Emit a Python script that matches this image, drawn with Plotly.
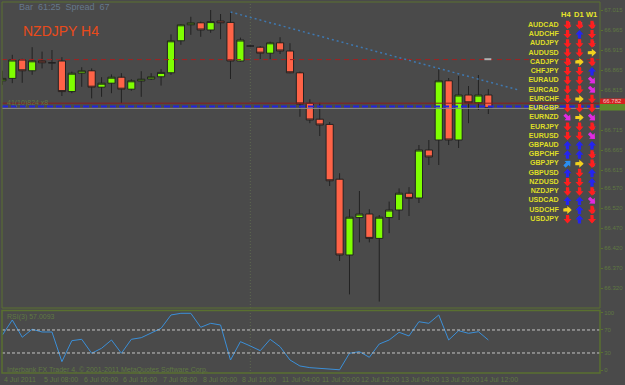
import math
import plotly.graph_objects as go

# ---------------- data (NZDJPY, H4 bars, index 0..49) ----------------
opens  = [66.838, 66.844, 66.890, 66.863, 66.888, 66.883, 66.8875, 66.811, 66.857, 66.863,
          66.822, 66.832, 66.847, 66.817, 66.8375, 66.8425, 66.848, 66.858, 66.938, 66.978,
          66.983, 66.965, 66.9875, 66.984, 66.8875, 66.925, 66.922, 66.907, 66.933, 66.9125,
          66.858, 66.782, 66.742, 66.729, 66.592, 66.4025, 66.496, 66.505, 66.444, 66.496,
          66.515, 66.557, 66.545, 66.665, 66.690, 66.838, 66.690, 66.8025, 66.783, 66.8025]
highs  = [66.863, 66.903, 66.893, 66.922, 66.911, 66.915, 66.897, 66.861, 66.872, 66.869,
          66.847, 66.854, 66.857, 66.842, 66.862, 66.857, 66.867, 66.954, 66.980, 66.998,
          66.986, 67.015, 67.005, 67.011, 66.946, 66.9275, 66.925, 66.936, 66.947, 66.932,
          66.861, 66.792, 66.783, 66.735, 66.607, 66.517, 66.5625, 66.517, 66.5025, 66.536,
          66.569, 66.572, 66.6775, 66.690, 66.870, 66.845, 66.850, 66.825, 66.8525, 66.817]
lows   = [66.828, 66.832, 66.833, 66.853, 66.869, 66.865, 66.800, 66.807, 66.823, 66.794,
          66.798, 66.807, 66.782, 66.813, 66.798, 66.840, 66.826, 66.853, 66.928, 66.953,
          66.948, 66.958, 66.942, 66.8425, 66.886, 66.9225, 66.8925, 66.892, 66.905, 66.857,
          66.748, 66.732, 66.700, 66.575, 66.3875, 66.304, 66.434, 66.434, 66.286, 66.457,
          66.490, 66.500, 66.5325, 66.6275, 66.6275, 66.6775, 66.670, 66.732, 66.765, 66.755]
closes = [66.844, 66.890, 66.863, 66.888, 66.883, 66.883, 66.811, 66.857, 66.863, 66.822,
          66.832, 66.847, 66.817, 66.838, 66.842, 66.848, 66.859, 66.938, 66.978, 66.983,
          66.965, 66.986, 66.983, 66.8875, 66.940, 66.925, 66.907, 66.933, 66.9125, 66.858,
          66.780, 66.740, 66.7275, 66.588, 66.4025, 66.497, 66.505, 66.444, 66.497, 66.515,
          66.557, 66.544, 66.665, 66.6475, 66.838, 66.690, 66.8025, 66.783, 66.8025, 66.769]
rsi = [61.3, 87.4, 57.3, 71.2, 66.5, 66.5, 14.9, 51.4, 53.8, 29.5,
       38.2, 52.6, 29.5, 53.8, 56.6, 64.2, 72.9, 96.1, 99.0, 99.0,
       74.7, 81.6, 78.7, 17.8, 49.7, 42.2, 34.0, 53.8, 41.0, 17.8,
       7.4, 4.5, 3.4, 1.2, 0.8, 29.5, 32.3, 22.5, 45.6, 52.6,
       66.0, 59.6, 84.4, 81.6, 96.1, 52.6, 68.8, 64.2, 67.0, 52.6]
bars = list(range(len(opens)))

time_label_bars = [0, 4, 8, 12, 16, 20, 24, 28, 32, 36, 40, 44, 48]
time_labels = ["4 Jul 2011", "5 Jul 08:00", "6 Jul 00:00", "6 Jul 16:00", "7 Jul 08:00",
               "8 Jul 00:00", "8 Jul 16:00", "11 Jul 04:00", "11 Jul 20:00", "12 Jul 12:00",
               "13 Jul 04:00", "13 Jul 20:00", "14 Jul 12:00"]
price_ticks = [67.015, 66.965, 66.915, 66.865, 66.815, 66.715, 66.665, 66.615,
               66.570, 66.520, 66.470, 66.420, 66.370, 66.320]
rsi_ticks = [100, 70, 30, 0]
rsi_levels = [70, 30]

level_dashed_red = 66.891
level_solid_red = 66.782
level_blue = 66.774
trend_start = (23, 67.010)
trend_end = (52.2, 66.814)
marker_dash = (48.6, 49.3, 66.892)
grid_bar = 25

symbols = ["AUDCAD", "AUDCHF", "AUDJPY", "AUDUSD", "CADJPY", "CHFJPY", "EURAUD", "EURCAD",
           "EURCHF", "EURGBP", "EURNZD", "EURJPY", "EURUSD", "GBPAUD", "GBPCHF", "GBPJPY",
           "GBPUSD", "NZDUSD", "NZDJPY", "USDCAD", "USDCHF", "USDJPY"]
h4 = ["D", "D", "D", "D", "D", "D", "D", "D", "D", "D", "DR", "D", "D", "U", "U", "UR", "U", "D", "D", "U", "R", "D"]
d1 = ["D", "U", "D", "D", "R", "D", "D", "D", "R", "D", "R", "D", "D", "U", "U", "R", "D", "D", "D", "U", "U", "U"]
w1 = ["D", "D", "D", "R", "D", "U", "DR", "DR", "D", "D", "DR", "D", "DR", "U", "D", "D", "U", "U", "D", "DR", "D", "D"]
timeframes = ["H4", "D1", "W1"]

# ---------------- styles ----------------
BG = "#4a4a4a"
OLIVE = "#5a7030"
DIM = "#5f7842"
ARROW_GLYPH = "➡"
arrow_angle = {"D": 90, "U": -90, "R": 0, "DR": 45, "UR": -45}
arrow_color = {"D": "#ff1e1e", "U": "#2424f0", "R": "#f2d21e", "DR": "#e02ae0", "UR": "#2a8ff0"}
# arrow silhouette pointing right (pixel offsets), rotated per direction
ARROW_POLY = [(-4.2, -1.6), (-4.2, 1.6), (-0.2, 1.6), (-0.2, 4.0), (4.2, 0), (-0.2, -4.0), (-0.2, -1.6)]

W, H = 625, 385
ML, MR, MT, MB = 2, 25, 2, 11
PW, PH = W - ML - MR, H - MT - MB


def xp(px):
    return (px - ML) / PW


def yp(py):
    return (H - MB - py) / PH


def arrow_path(cx, cy, code):
    t = math.radians(arrow_angle[code])
    pts = []
    for dx, dy in ARROW_POLY:
        rx = dx * math.cos(t) - dy * math.sin(t)
        ry = dx * math.sin(t) + dy * math.cos(t)
        pts.append("%.5f,%.5f" % (xp(cx + rx), yp(cy + ry)))
    return "M" + " L".join(pts) + " Z"


fig = go.Figure()
fig.add_trace(go.Candlestick(
    x=bars, open=opens, high=highs, low=lows, close=closes,
    increasing=dict(fillcolor="#7fff00", line=dict(color="#222222", width=1)),
    decreasing=dict(fillcolor="#ff6347", line=dict(color="#222222", width=1)),
    whiskerwidth=0, xaxis="x", yaxis="y", hoverinfo="skip", showlegend=False))

fig.add_trace(go.Scatter(x=bars, y=rsi, mode="lines", line=dict(color="#3b8fd8", width=1),
                         xaxis="x", yaxis="y2", hoverinfo="skip", showlegend=False))

shapes = []
shapes.append(dict(type="line", xref="x", yref="paper", x0=grid_bar, x1=grid_bar, y0=0, y1=1,
                   line=dict(color="#5f6a50", width=1, dash="1px,2px"), layer="below"))
shapes.append(dict(type="line", xref="paper", yref="y", x0=0, x1=1, y0=level_dashed_red, y1=level_dashed_red,
                   line=dict(color="#a32020", width=1, dash="5px,4px")))
shapes.append(dict(type="line", xref="paper", yref="y", x0=0, x1=1, y0=level_solid_red, y1=level_solid_red,
                   line=dict(color="#8c1c1c", width=1)))
shapes.append(dict(type="line", xref="paper", yref="y", x0=0, x1=1, y0=level_blue, y1=level_blue,
                   line=dict(color="#2222e0", width=2, dash="6px,3px")))
shapes.append(dict(type="line", xref="paper", yref="y", x0=0, x1=1, y0=closes[-1], y1=closes[-1],
                   line=dict(color="#8a8a8a", width=1)))
shapes.append(dict(type="line", xref="x", yref="y", x0=trend_start[0], y0=trend_start[1],
                   x1=trend_end[0], y1=trend_end[1], line=dict(color="#3f78b0", width=1.5, dash="2px,3px")))
shapes.append(dict(type="line", xref="x", yref="y", x0=marker_dash[0], x1=marker_dash[1],
                   y0=marker_dash[2], y1=marker_dash[2], line=dict(color="#b0b0b0", width=2)))
for lv in rsi_levels:
    shapes.append(dict(type="line", xref="paper", yref="y2", x0=0, x1=1, y0=lv, y1=lv,
                       line=dict(color="#c4c4c4", width=1, dash="3px,2px")))
shapes.append(dict(type="rect", xref="paper", yref="paper", x0=0, x1=1, y0=yp(308), y1=1,
                   line=dict(color=OLIVE, width=1)))
shapes.append(dict(type="rect", xref="paper", yref="paper", x0=0, x1=1, y0=yp(373), y1=yp(310.5),
                   line=dict(color=OLIVE, width=1.5)))
shapes.append(dict(type="rect", xref="paper", yref="paper", x0=1.0, x1=xp(625), y0=yp(104), y1=yp(98.5),
                   fillcolor="#d42020", line=dict(width=0)))
shapes.append(dict(type="rect", xref="paper", yref="paper", x0=1.0, x1=xp(625), y0=yp(110.5), y1=yp(104),
                   fillcolor="#5f8a2a", line=dict(width=0)))

ann = []
ann.append(dict(text="Bar  61:25  Spread  67", xref="paper", yref="paper", x=xp(17), y=yp(7),
                xanchor="left", yanchor="middle", showarrow=False,
                font=dict(family="Liberation Sans", size=9, color="#66788a")))
ann.append(dict(text="NZDJPY H4", xref="paper", yref="paper", x=xp(21), y=yp(31),
                xanchor="left", yanchor="middle", showarrow=False,
                font=dict(family="Liberation Sans", size=14, color="#ea4a1a")))
ann.append(dict(text="41(10)824 x8", xref="paper", yref="paper", x=xp(5), y=yp(103),
                xanchor="left", yanchor="middle", showarrow=False,
                font=dict(family="Liberation Sans", size=7, color=DIM)))
ann.append(dict(text="RSI(3) 57.0093", xref="paper", yref="paper", x=xp(5), y=yp(317),
                xanchor="left", yanchor="middle", showarrow=False,
                font=dict(family="Liberation Sans", size=7, color=DIM)))
ann.append(dict(text="Interbank FX Trader 4, © 2001-2011 MetaQuotes Software Corp.", xref="paper", yref="paper",
                x=xp(5), y=yp(370), xanchor="left", yanchor="middle", showarrow=False,
                font=dict(family="Liberation Sans", size=7, color=DIM)))
ann.append(dict(text="66.782", xref="paper", yref="paper", x=xp(602), y=yp(101.3),
                xanchor="left", yanchor="middle", showarrow=False, borderpad=0,
                font=dict(family="Liberation Sans", size=6, color="#f0c0c0")))
for b, t in zip(time_label_bars, time_labels):
    ann.append(dict(text=t, xref="x", yref="paper", x=b, y=yp(379), xanchor="left", yanchor="middle",
                    showarrow=False, font=dict(family="Liberation Sans", size=7, color=DIM)))
header_x = [566, 578.5, 591.5]
for hx, tf in zip(header_x, timeframes):
    ann.append(dict(text="<b>" + tf + "</b>", xref="paper", yref="paper", x=xp(hx),
                    y=yp(15), xanchor="center", yanchor="middle", showarrow=False, borderpad=0,
                    font=dict(family="Liberation Sans", size=7.5, color="#e6e62a")))
n = len(symbols)
ROW0, ROWSTEP = 25, 9.25
ann.append(dict(text="<b>" + "<br>".join(symbols) + "</b>", xref="paper", yref="paper", x=xp(559.5),
                y=yp(ROW0 + ROWSTEP * (n - 1) / 2), xanchor="right", yanchor="middle", align="right",
                showarrow=False, borderpad=0,
                font=dict(family="Liberation Sans", size=7.1, color="#dede26")))
# trend table arrows: glyph text with a solid silhouette behind it
col_x = [567.5, 579.5, 592]
for k in range(n):
    ry = ROW0 + ROWSTEP * k
    for cx, code in zip(col_x, (h4[k], d1[k], w1[k])):
        shapes.append(dict(type="path", xref="paper", yref="paper", path=arrow_path(cx, ry, code),
                           fillcolor=arrow_color[code], line=dict(width=0)))
        ann.append(dict(text=ARROW_GLYPH, xref="paper", yref="paper", x=xp(cx), y=yp(ry),
                        xanchor="center", yanchor="middle", showarrow=False, borderpad=0,
                        textangle=arrow_angle[code],
                        font=dict(family="DejaVu Sans", size=8, color=arrow_color[code])))

fig.update_layout(
    width=W, height=H, margin=dict(l=ML, r=MR, t=MT, b=MB, autoexpand=False),
    paper_bgcolor=BG, plot_bgcolor=BG, showlegend=False,
    boxgap=0.15, boxgroupgap=0.15,
    xaxis=dict(domain=[0, 1], range=[-0.04, 60.26], anchor="y2", showgrid=False, zeroline=False,
               showticklabels=False, rangeslider=dict(visible=False), fixedrange=True, automargin=False),
    yaxis=dict(domain=[yp(308), 1], range=[67.04 - 0.0025 * 308, 67.04 - 0.0025 * 2], side="right",
               anchor="x", showgrid=False, zeroline=False, tickvals=price_ticks, automargin=False,
               ticktext=["%.3f" % v for v in price_ticks], ticks="outside", ticklen=2, tickcolor=OLIVE,
               tickfont=dict(family="Liberation Sans", size=6, color=DIM)),
    yaxis2=dict(domain=[yp(373), yp(311)], range=[-4.8, 103], side="right", anchor="x", automargin=False,
                showgrid=False, zeroline=False, tickvals=rsi_ticks, ticks="outside", ticklen=2,
                tickcolor=OLIVE, tickfont=dict(family="Liberation Sans", size=6, color=DIM)),
    shapes=shapes, annotations=ann,
)

fig.write_html("out.html")
